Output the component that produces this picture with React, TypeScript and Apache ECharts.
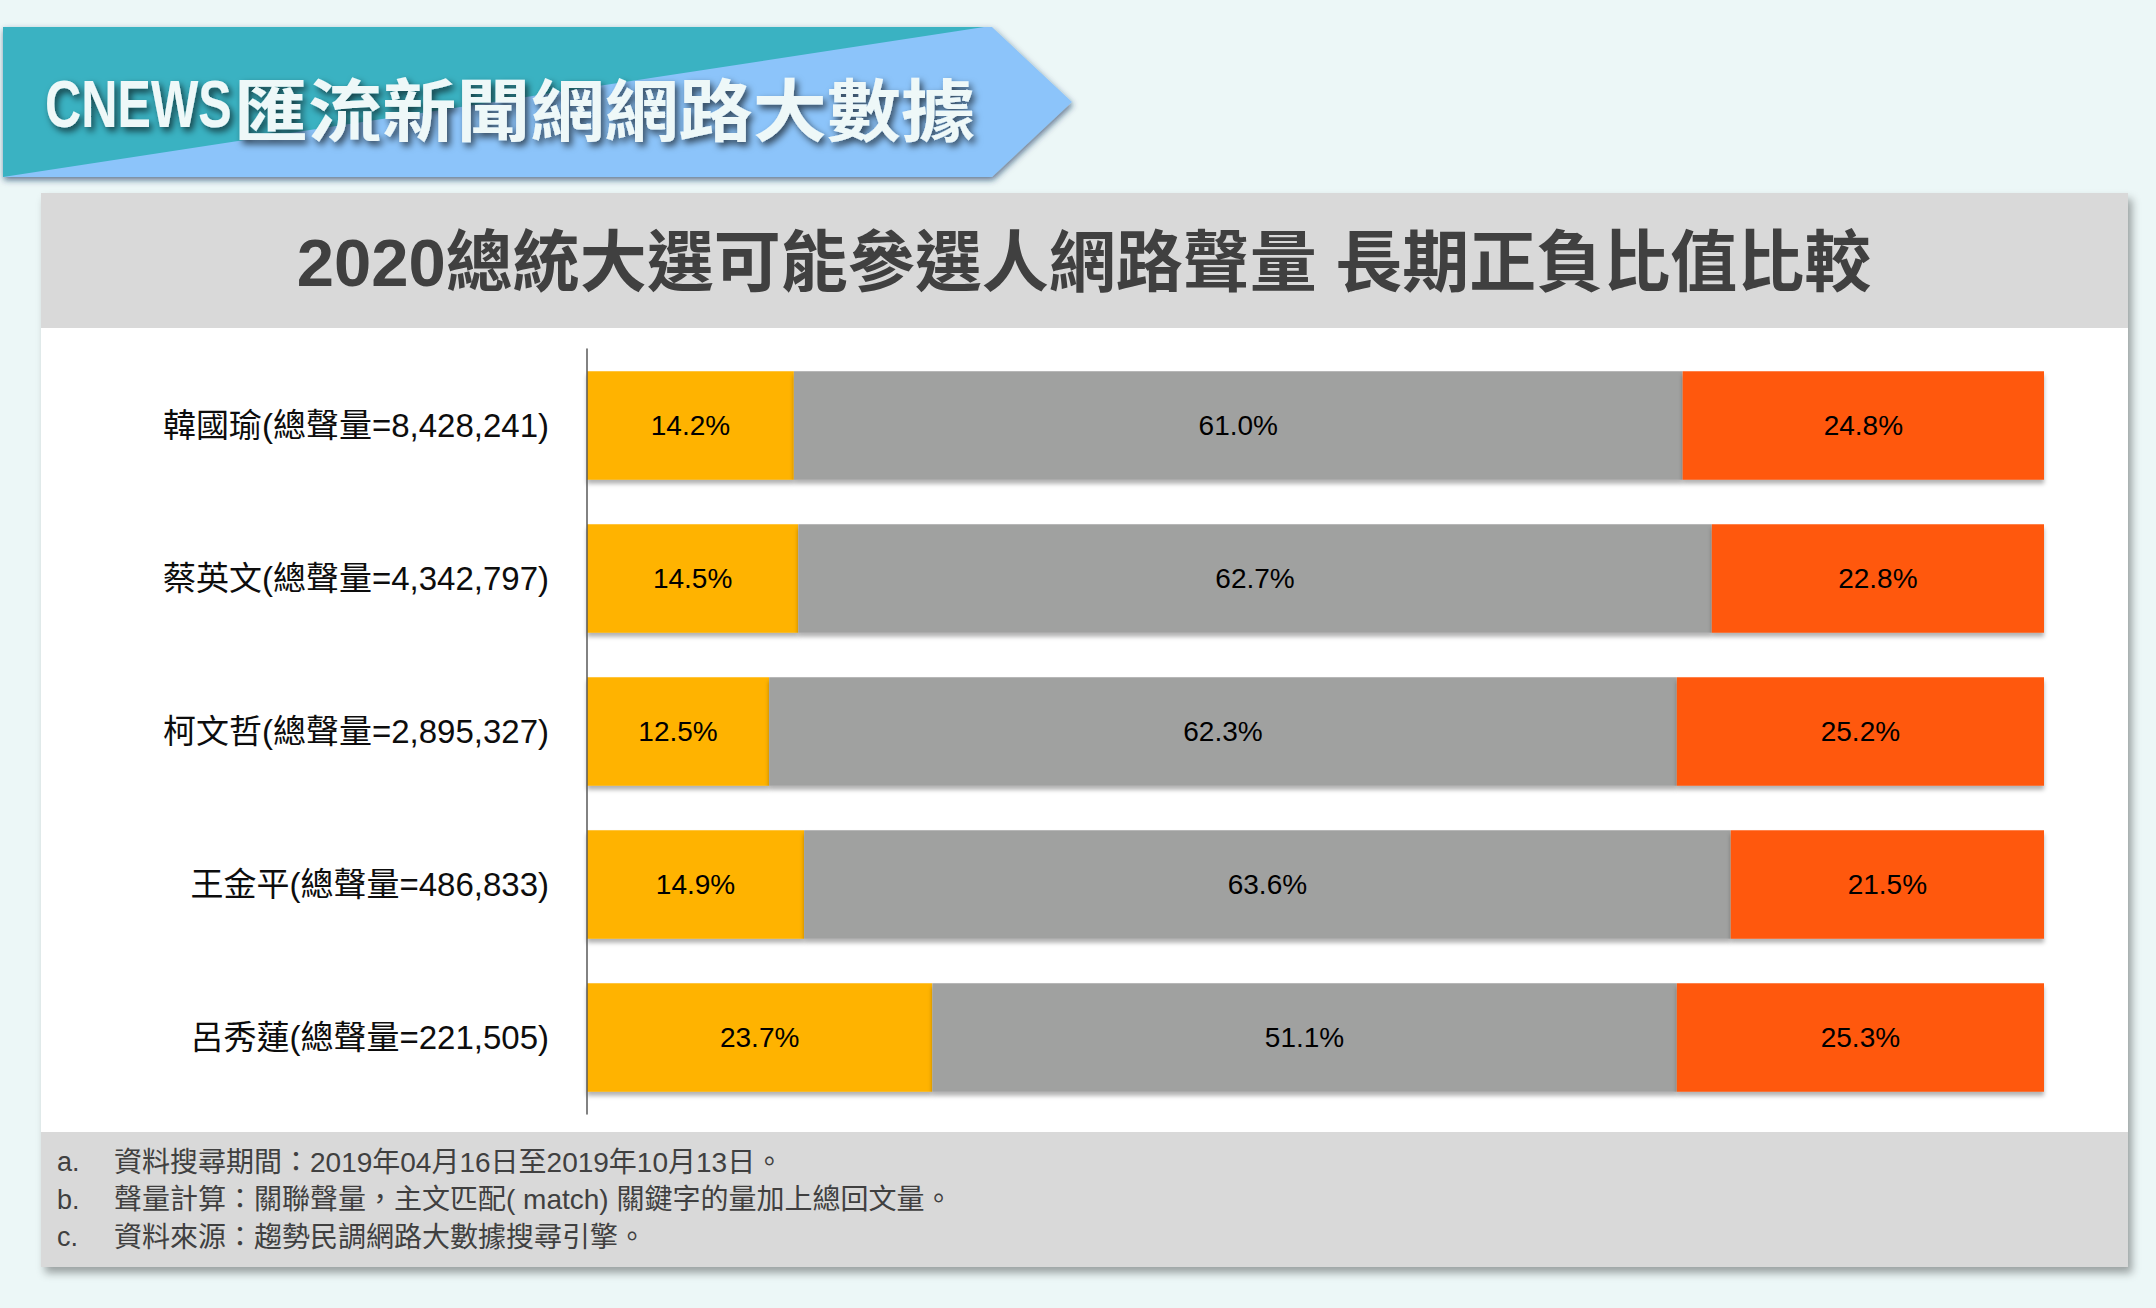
import React, { useEffect, useRef } from "react";
import * as echarts from "echarts";

const candidates = ["韓國瑜", "蔡英文", "柯文哲", "王金平", "呂秀蓮"];
const totalVolumes = [8428241, 4342797, 2895327, 486833, 221505];
const positiveShare = [14.2, 14.5, 12.5, 14.9, 23.7];
const neutralShare = [61.0, 62.7, 62.3, 63.6, 51.1];
const negativeShare = [24.8, 22.8, 25.2, 21.5, 25.3];
const seriesNames = ["正面", "中立", "負面"];
const seriesColors = ["#FFB300", "#A0A1A0", "#FF590B"];

const titleText = "2020總統大選可能參選人網路聲量 長期正負比值比較";
const bannerBrand = "CNEWS";
const bannerText = "匯流新聞網網路大數據";
const footNoteMarks = ["a.", "b.", "c."];
const footNotes = [
  "資料搜尋期間：2019年04月16日至2019年10月13日。",
  "聲量計算：關聯聲量，主文匹配( match) 關鍵字的量加上總回文量。",
  "資料來源：趨勢民調網路大數據搜尋引擎。",
];

const LATIN_CJK = "'Liberation Sans', Arial, 'Noto Sans CJK TC', sans-serif";

export default function App() {
  const ref = useRef<HTMLDivElement>(null);

  useEffect(() => {
    document.body.style.margin = "0";
    const chart = echarts.init(ref.current!, undefined, { renderer: "svg" });

    const categoryLabels = candidates.map(
      (n, i) => `${n}(總聲量=${totalVolumes[i].toLocaleString("en-US")})`
    );
    const shares = [positiveShare, neutralShare, negativeShare];

    const footGraphics: any[] = [];
    footNotes.forEach((t, i) => {
      const y = 1162 + i * 37.5;
      footGraphics.push({
        type: "text",
        z: 3,
        x: 57,
        y,
        style: {
          text: footNoteMarks[i],
          fill: "#404040",
          font: `27px ${LATIN_CJK}`,
          verticalAlign: "middle",
        },
      });
      footGraphics.push({
        type: "text",
        z: 3,
        x: 114,
        y,
        style: {
          text: t,
          fill: "#404040",
          font: `28px ${LATIN_CJK}`,
          verticalAlign: "middle",
        },
      });
    });

    const bannerShadow = {
      textShadowColor: "rgba(0,0,0,0.65)",
      textShadowBlur: 7,
      textShadowOffsetX: 3,
      textShadowOffsetY: 4,
    };

    chart.setOption({
      animation: false,
      backgroundColor: "#ECF7F7",
      graphic: [
        {
          type: "polygon",
          z: 1,
          shape: {
            points: [
              [3, 27],
              [992, 27],
              [1072, 102],
              [992, 177],
              [3, 177],
            ],
          },
          style: {
            fill: "#8CC4FA",
            shadowColor: "rgba(20,50,90,0.65)",
            shadowBlur: 6,
            shadowOffsetY: 3,
            shadowOffsetX: 1,
          },
        },
        {
          type: "polygon",
          z: 2,
          shape: {
            points: [
              [3, 27],
              [984, 27],
              [3, 177],
            ],
          },
          style: { fill: "#3AB2C2" },
        },
        {
          type: "text",
          z: 3,
          x: 45,
          y: 104,
          scaleX: 0.76,
          style: {
            text: bannerBrand,
            fill: "#EEF8F8",
            font: "bold 66px 'Liberation Sans', Arial, sans-serif",
            verticalAlign: "middle",
            ...bannerShadow,
          },
        },
        {
          type: "text",
          z: 3,
          x: 234,
          y: 106,
          scaleX: 1.09,
          style: {
            text: bannerText,
            fill: "#EEF8F8",
            font: "bold 68px 'Noto Sans CJK TC', sans-serif",
            verticalAlign: "middle",
            ...bannerShadow,
          },
        },
        {
          type: "rect",
          z: 1,
          shape: { x: 41, y: 193, width: 2087, height: 1074 },
          style: {
            fill: "#FFFFFF",
            shadowColor: "rgba(0,0,0,0.35)",
            shadowBlur: 8,
            shadowOffsetX: 4,
            shadowOffsetY: 6,
          },
        },
        {
          type: "rect",
          z: 2,
          shape: { x: 41, y: 193, width: 2087, height: 135 },
          style: { fill: "#D9D9D9" },
        },
        {
          type: "rect",
          z: 2,
          shape: { x: 41, y: 1132, width: 2087, height: 135 },
          style: { fill: "#D9D9D9" },
        },
        {
          type: "text",
          z: 3,
          x: 1084,
          y: 262,
          style: {
            text: titleText,
            fill: "#404040",
            font: `bold 67px ${LATIN_CJK}`,
            align: "center",
            verticalAlign: "middle",
          },
        },
        ...footGraphics,
      ],
      grid: {
        left: 587,
        right: 112,
        top: 349,
        bottom: 194,
        containLabel: false,
      },
      xAxis: {
        type: "value",
        min: 0,
        max: 100,
        show: false,
      },
      yAxis: {
        type: "category",
        z: 10,
        data: categoryLabels,
        inverse: true,
        axisLine: { show: true, lineStyle: { color: "#595959", width: 1.5 } },
        axisTick: { show: false },
        splitLine: { show: false },
        axisLabel: {
          fontSize: 33,
          color: "#0D0D0D",
          margin: 38,
          fontFamily: LATIN_CJK,
        },
      },
      series: shares.map((vals, si) => ({
        name: seriesNames[si],
        type: "bar",
        stack: "total",
        barCategoryGap: "29%",
        z: 5,
        data: vals,
        itemStyle: {
          color: seriesColors[si],
          shadowColor: "rgba(0,0,0,0.3)",
          shadowBlur: 4,
          shadowOffsetY: 4,
        },
        label: {
          show: true,
          position: "inside",
          color: "#000",
          fontSize: 28,
          fontFamily: "'Liberation Sans', Arial, sans-serif",
          formatter: (p: any) => `${Number(p.value).toFixed(1)}%`,
        },
      })),
    });

    return () => chart.dispose();
  }, []);

  return (
    <div
      ref={ref}
      style={{ position: "fixed", left: 0, top: 0, width: 2156, height: 1308 }}
    />
  );
}
